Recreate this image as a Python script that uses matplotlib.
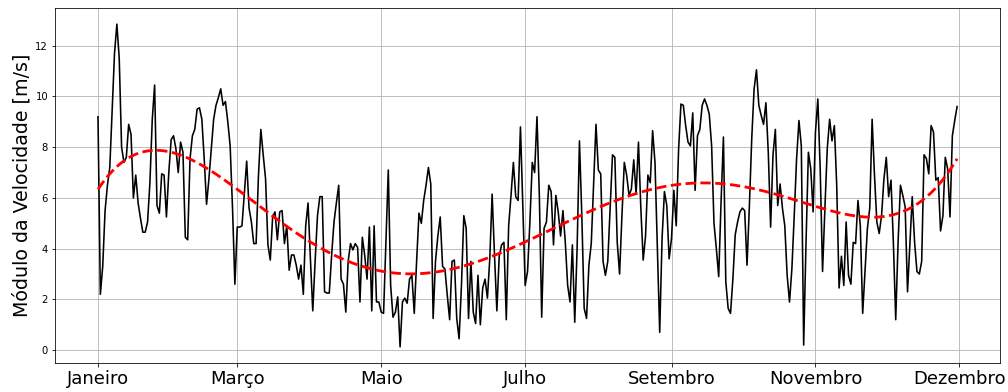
import numpy as np
import matplotlib
matplotlib.use("Agg")
import matplotlib.pyplot as plt

# Velocidade media diaria do vento [m/s] ao longo do ano
jan_fev = [9.2, 2.2, 3.3, 5.5, 6.5, 7.2, 9.5, 11.7, 12.85, 11.5, 8.0, 7.4, 7.6, 8.9, 8.5,
           6.0, 6.9, 5.8, 5.2, 4.65, 4.65, 5.05, 6.6, 9.1, 10.45, 5.7, 5.4, 6.95, 6.9, 5.25,
           7.0, 8.3, 8.45, 7.95, 7.0, 8.2, 7.8, 4.45, 4.35, 7.55, 8.45, 8.7, 9.5, 9.55, 9.1,
           7.55, 5.75, 6.75, 7.95, 9.1, 9.65, 9.95, 10.3, 9.65, 9.8, 9.0, 8.05, 5.6, 2.6, 4.85,
           4.85]
mar_abr = [4.9, 6.2, 7.45, 5.6, 5.05, 4.2, 4.2, 6.9, 8.7, 7.7, 6.75, 4.15, 3.55, 5.25, 5.45,
           4.35, 5.45, 5.5, 4.2, 4.9, 3.15, 3.75, 3.75, 3.35, 2.8, 3.35, 2.2, 4.9, 5.8, 3.6,
           1.55, 3.5, 5.3, 6.05, 6.05, 2.3, 2.25, 2.25, 3.75, 5.05, 5.8, 6.5, 2.8, 2.6, 1.5,
           3.5, 4.2, 3.95, 4.2, 4.05, 1.9, 4.45, 3.75, 2.8, 4.85, 1.55, 4.9, 1.9, 1.9, 1.5,
           1.45]
mai_jun = [4.3, 7.1, 2.55, 1.3, 1.5, 2.1, 0.13, 1.9, 2.05, 1.85, 2.8, 2.95, 1.45, 3.5, 5.4,
           5.0, 5.9, 6.5, 7.2, 6.55, 1.25, 3.5, 4.5, 5.25, 3.3, 3.2, 2.15, 1.2, 3.5, 3.55,
           1.25, 0.45, 2.55, 5.3, 4.8, 1.25, 3.5, 1.5, 1.05, 2.95, 1.0, 2.45, 2.8, 2.05, 3.6,
           6.15, 3.75, 1.55, 3.7, 4.15, 4.25, 1.2, 4.9, 6.1, 7.4, 6.05, 5.9, 8.8, 5.7, 2.55,
           3.1]
jul_ago = [5.05, 7.4, 7.0, 9.2, 6.1, 1.3, 4.8, 5.05, 6.5, 6.25, 4.15, 6.1, 5.45, 4.5, 5.5,
           4.25, 2.55, 1.9, 4.15, 1.1, 4.0, 8.25, 5.3, 1.65, 1.25, 3.35, 4.2, 6.6, 8.9, 7.1,
           6.95, 3.5, 2.95, 3.5, 5.6, 7.7, 7.6, 4.25, 3.0, 5.3, 7.4, 6.9, 6.1, 6.35, 7.5,
           6.15, 8.2, 5.6, 3.55, 4.5, 6.9, 6.6, 8.65, 7.4, 4.0, 0.7, 4.4, 6.25, 5.7, 3.6,
           4.4]
set_out = [6.3, 4.9, 7.9, 9.7, 9.65, 8.85, 8.2, 8.05, 9.35, 6.3, 8.45, 8.7, 9.65, 9.9, 9.65,
           9.3, 8.05, 5.0, 4.0, 2.9, 5.85, 8.4, 2.7, 1.65, 1.45, 2.8, 4.55, 5.05, 5.45, 5.6,
           5.5, 3.35, 5.7, 8.35, 10.3, 11.05, 9.65, 9.25, 8.9, 9.75, 7.8, 4.85, 7.7, 8.7, 5.7,
           6.55, 5.6, 4.9, 2.95, 1.9, 3.2, 5.3, 7.55, 9.05, 8.05, 0.2, 4.25, 7.8, 7.15, 5.45,
           8.6]
nov_dez = [9.9, 7.15, 3.1, 5.6, 7.95, 9.1, 8.25, 8.85, 6.5, 2.45, 3.7, 2.55, 5.05, 2.95, 2.6,
           4.25, 4.2, 5.9, 4.9, 1.45, 3.1, 4.8, 5.6, 9.1, 6.9, 5.05, 4.6, 5.3, 6.75, 7.6,
           6.05, 6.7, 4.25, 1.2, 4.25, 6.5, 6.1, 5.65, 2.3, 4.15, 6.05, 4.25, 3.1, 3.0, 3.5,
           7.7, 7.55, 6.95, 8.85, 8.6, 6.7, 6.8, 4.7, 5.3, 7.6, 7.15, 5.25, 8.45, 9.05, 9.6]

meses = ['Janeiro', 'Março', 'Maio', 'Julho', 'Setembro', 'Novembro', 'Dezembro']
dias_meses = [0, 59, 120, 181, 243, 304, 365]

velocidade = np.array(jan_fev + mar_abr + mai_jun + jul_ago + set_out + nov_dez)
dias = np.arange(len(velocidade))

# Ajuste polinomial da tendencia anual
coef = np.polyfit(dias, velocidade, 5)
tendencia = np.polyval(coef, dias)

fig = plt.figure(figsize=(14, 392 / 72), dpi=72)
ax = fig.add_axes([0.0546, 0.074, 0.9375, 0.9056])
ax.plot(dias, velocidade, color='black', linewidth=1.6)
ax.plot(dias, tendencia, color='red', linestyle='--', linewidth=2.8)
ax.set_ylabel('Módulo da Velocidade [m/s]', fontsize=19)
ax.set_xticks(dias_meses)
ax.set_xticklabels(meses, fontsize=18)
ax.tick_params(axis='y', labelsize=10)
ax.grid(True)

plt.savefig('out.png', dpi=72)
